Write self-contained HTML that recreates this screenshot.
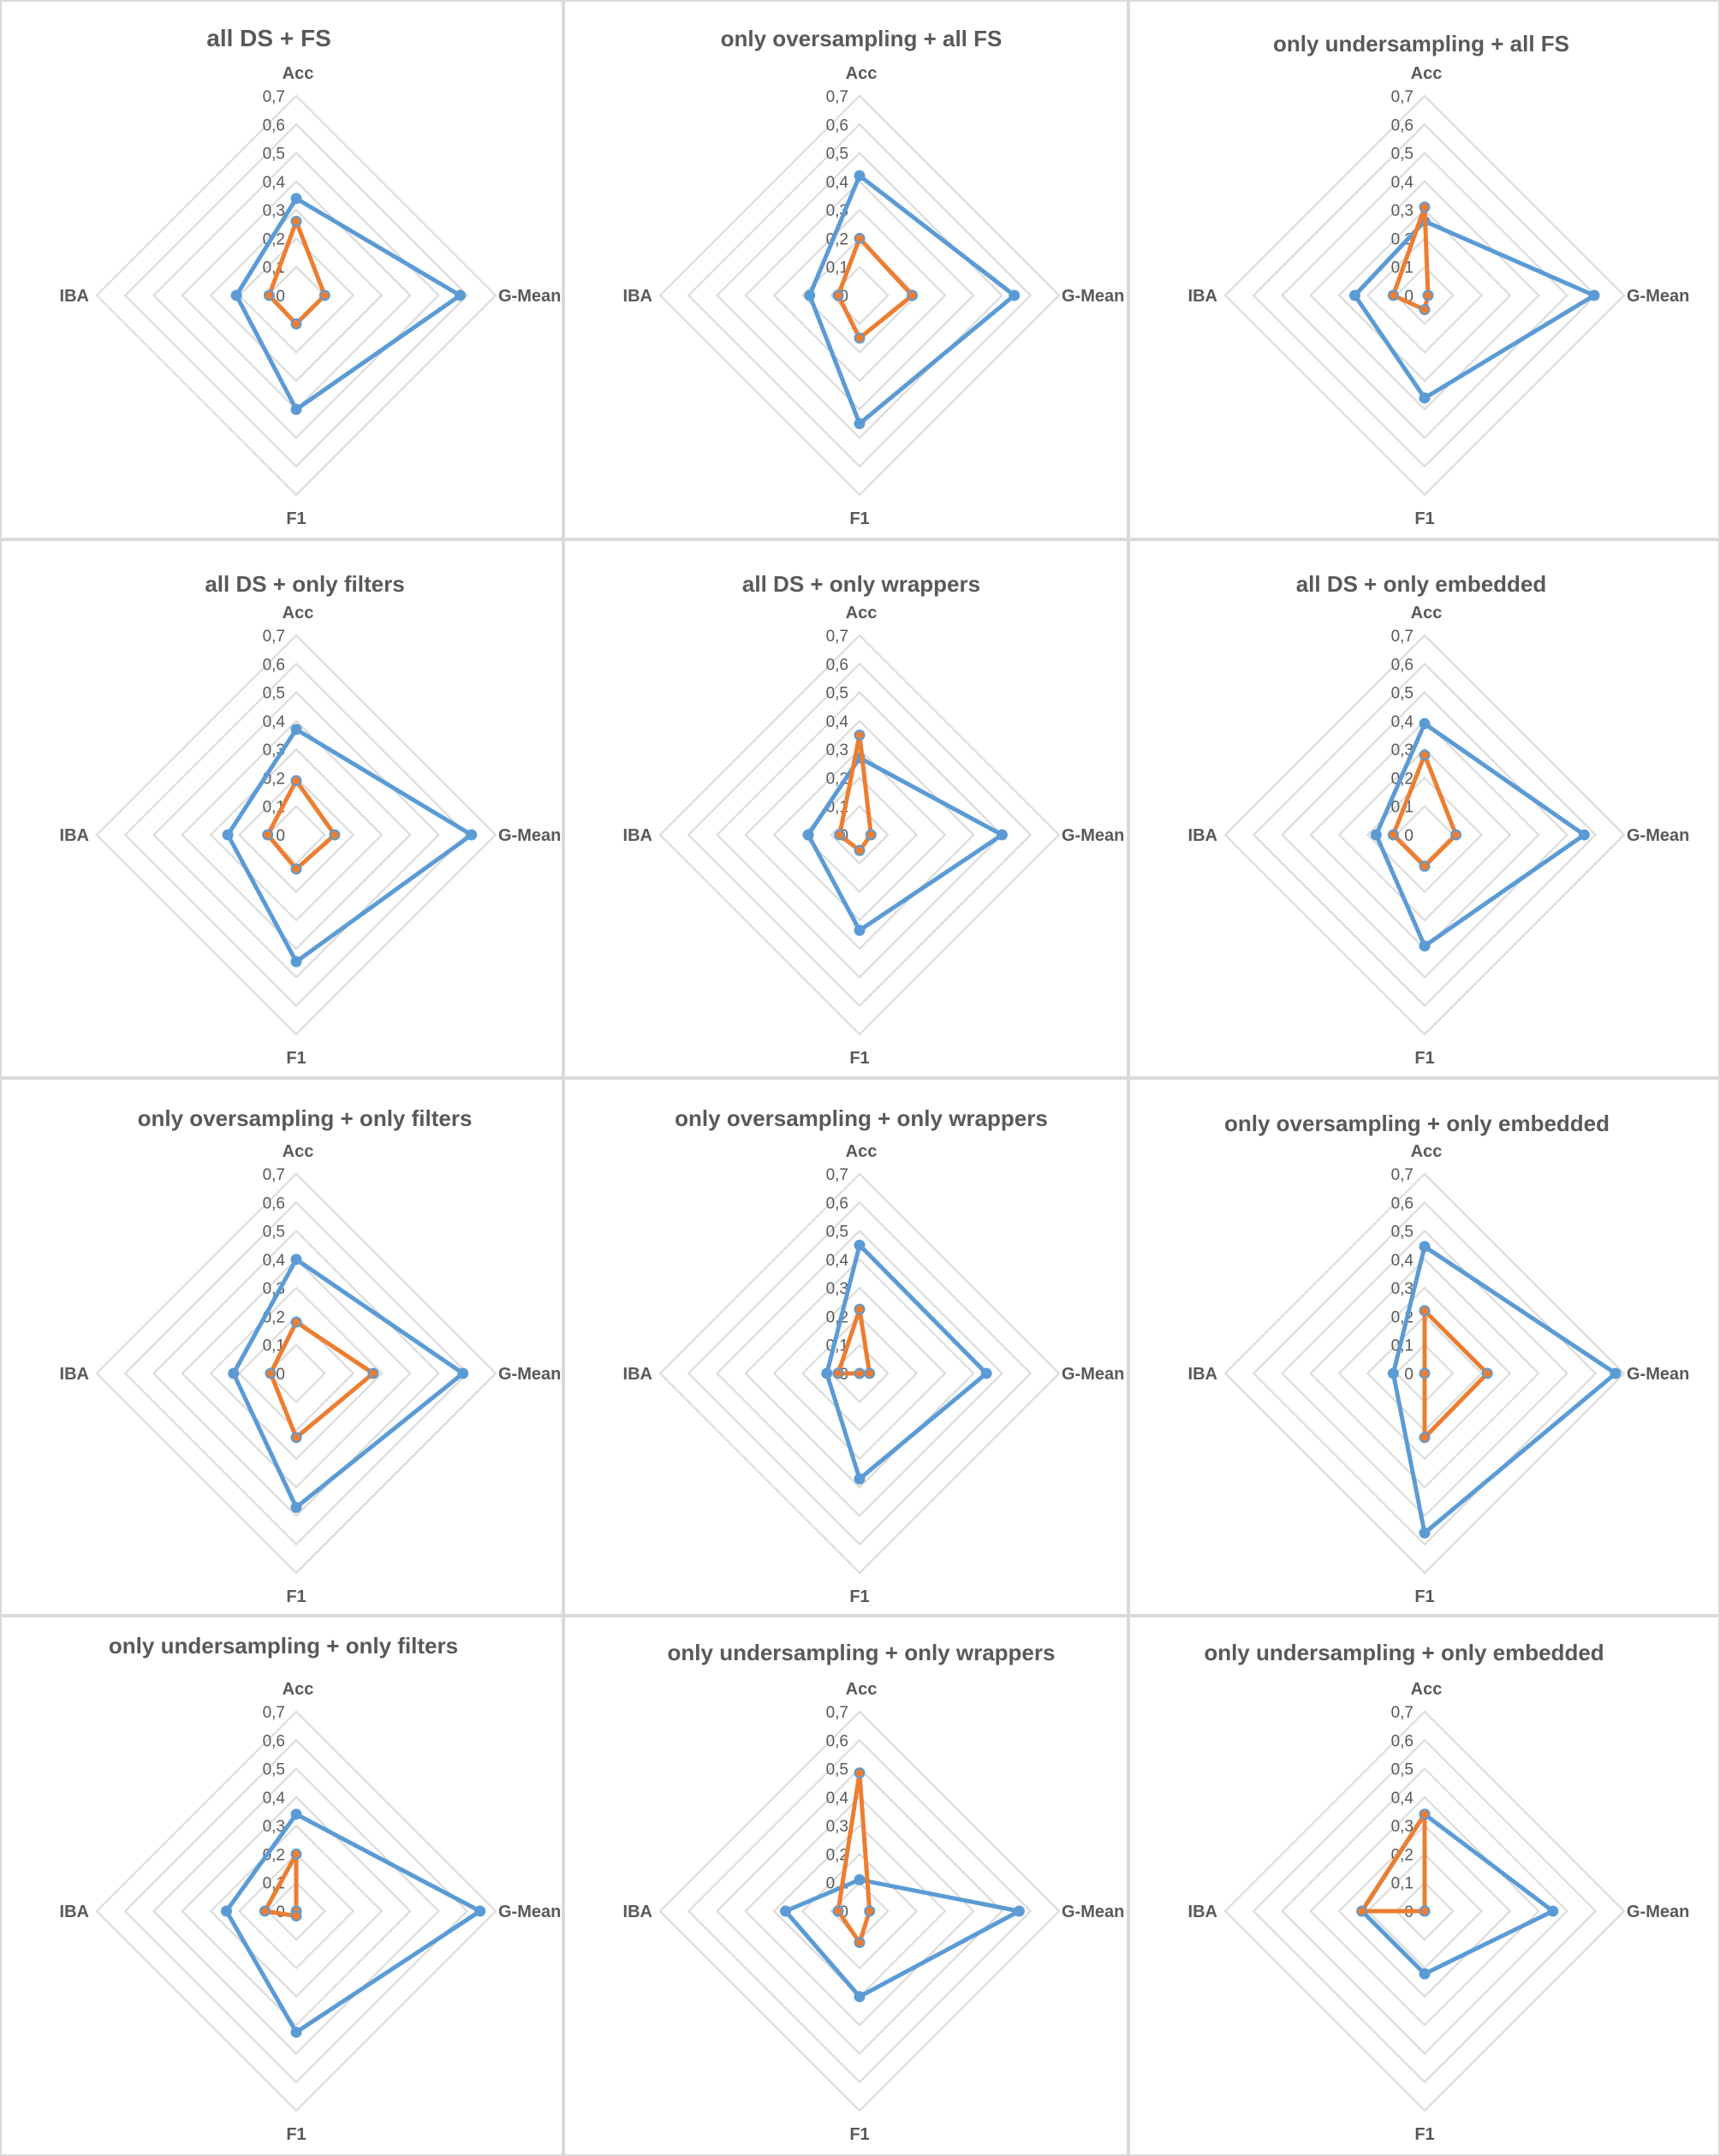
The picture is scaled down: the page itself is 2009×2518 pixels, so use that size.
<!DOCTYPE html>
<html><head><meta charset="utf-8">
<style>
html,body{margin:0;padding:0;background:#fff;}
svg{display:block;}
text{font-family:"Liberation Sans",Arial,sans-serif;}
</style></head>
<body>
<svg id="chart" width="2009" height="2518" viewBox="0 0 2009 2518" xmlns="http://www.w3.org/2000/svg"></svg>
<script>
const titles = ["all DS + FS","only oversampling + all FS","only undersampling + all FS",
  "all DS + only filters","all DS + only wrappers","all DS + only embedded",
  "only oversampling + only filters","only oversampling + only wrappers","only oversampling + only embedded",
  "only undersampling + only filters","only undersampling + only wrappers","only undersampling + only embedded"];
const axes = ["Acc","G-Mean","F1","IBA"];
const tickLabels = ["0","0,1","0,2","0,3","0,4","0,5","0,6","0,7"];
// values per panel in axis order Acc, G-Mean, F1, IBA
const blueSeries = [
  [0.34,0.575,0.40,0.21],
  [0.42,0.543,0.45,0.175],
  [0.26,0.595,0.36,0.245],
  [0.37,0.615,0.445,0.24],
  [0.27,0.50,0.335,0.18],
  [0.39,0.56,0.39,0.17],
  [0.40,0.585,0.47,0.22],
  [0.45,0.445,0.37,0.115],
  [0.445,0.67,0.56,0.11],
  [0.34,0.645,0.425,0.245],
  [0.11,0.56,0.30,0.26],
  [0.34,0.45,0.22,0.22]];
const orangeSeries = [
  [0.26,0.10,0.10,0.095],
  [0.20,0.185,0.15,0.075],
  [0.31,0.012,0.05,0.11],
  [0.19,0.135,0.12,0.10],
  [0.35,0.04,0.055,0.07],
  [0.28,0.11,0.11,0.11],
  [0.18,0.27,0.225,0.09],
  [0.225,0.035,0.0,0.075],
  [0.22,0.22,0.225,0.0],
  [0.20,0.0,0.017,0.11],
  [0.485,0.035,0.11,0.075],
  [0.34,0.0,0.0,0.22]];
const maxVal = 0.7;
</script>
<script>
const svg = document.getElementById('chart');
const NS = 'http://www.w3.org/2000/svg';
const colX = [0,658,1318,2009];
const rowY = [0,630,1259,1887,2518];
const titleY = [45,45,51,52,52,52,47,47,53,35,43,43];
const titleDx = [-32,2,-4,10,2,-4,10,2,-9,-15,2,-24];
const titleFs = [28,26,26,26,26,26,26,26,26,26,26,26];
const R = 233;
function mk(tag, attrs, parent){
  const e = document.createElementNS(NS, tag);
  for (const k in attrs) e.setAttribute(k, attrs[k]);
  parent.appendChild(e);
  return e;
}
function rScale(v){ return v / maxVal * R; }
function pt(cx, cy, ai, v){
  const r = rScale(v);
  if (ai===0) return [cx, cy-r];
  if (ai===1) return [cx+r, cy];
  if (ai===2) return [cx, cy+r];
  return [cx-r, cy];
}
titles.forEach((t, i) => {
  const c = i % 3, r = Math.floor(i / 3);
  const x0 = colX[c], y0 = rowY[r], w = colX[c+1]-x0, h = rowY[r+1]-y0;
  const g = mk('g', {}, svg);
  
  
  const border = mk('rect', {x:x0+1, y:y0+1, width:w-2, height:h-2, fill:'#fff', stroke:'#d9d9d9', 'stroke-width':2}, g);
  
  
  const cx = x0 + 346, cy = y0 + 345;
  const tt = mk('text', {x:cx+titleDx[i], y:y0+titleY[i]+9, 'text-anchor':'middle', 'font-size':titleFs[i], 'font-weight':'bold', fill:'#595959'}, g);
  tt.textContent = t;
  
  
  for (let k = 1; k < tickLabels.length; k++){
    const v = k * 0.1;
    const pts = [0,1,2,3].map(a => pt(cx, cy, a, v).join(',')).join(' ');
    const gr = mk('polygon', {points:pts, fill:'none', stroke:'#d9d9d9', 'stroke-width':2}, g);
    
    
  }
  tickLabels.forEach((lab, k) => {
    const tl = mk('text', {x:cx-13, y:cy - rScale(k*0.1) + 7, 'text-anchor':'end', 'font-size':19, fill:'#595959'}, g);
    tl.textContent = lab;
    
    
  });
  const lblPos = [[cx+2, cy-253, 'middle'], [cx+236, cy+7, 'start'], [cx, cy+267, 'middle'], [cx-242, cy+7, 'end']];
  axes.forEach((a, k) => {
    const al = mk('text', {x:lblPos[k][0], y:lblPos[k][1], 'text-anchor':lblPos[k][2], 'font-size':20, 'font-weight':'bold', fill:'#595959'}, g);
    al.textContent = a;
    
    
  });
  [[blueSeries[i], '#5b9bd5', 'blue'], [orangeSeries[i], '#ed7d31', 'orange']].forEach(([vals, col, nm]) => {
    const pts = vals.map((v, a) => pt(cx, cy, a, v));
    const pl = mk('polygon', {points:pts.map(p => p.join(',')).join(' '), fill:'none', stroke:col, 'stroke-width':5, 'stroke-linejoin':'round'}, g);
    
    
    pts.forEach((p, a) => {
      const m = mk('circle', {cx:p[0], cy:p[1], r:nm==='blue'?6:5.5, fill:col, stroke:'#5b9bd5', 'stroke-width':nm==='blue'?1:2}, g);
      
      
    });
  });
});
</script>
</body></html>
